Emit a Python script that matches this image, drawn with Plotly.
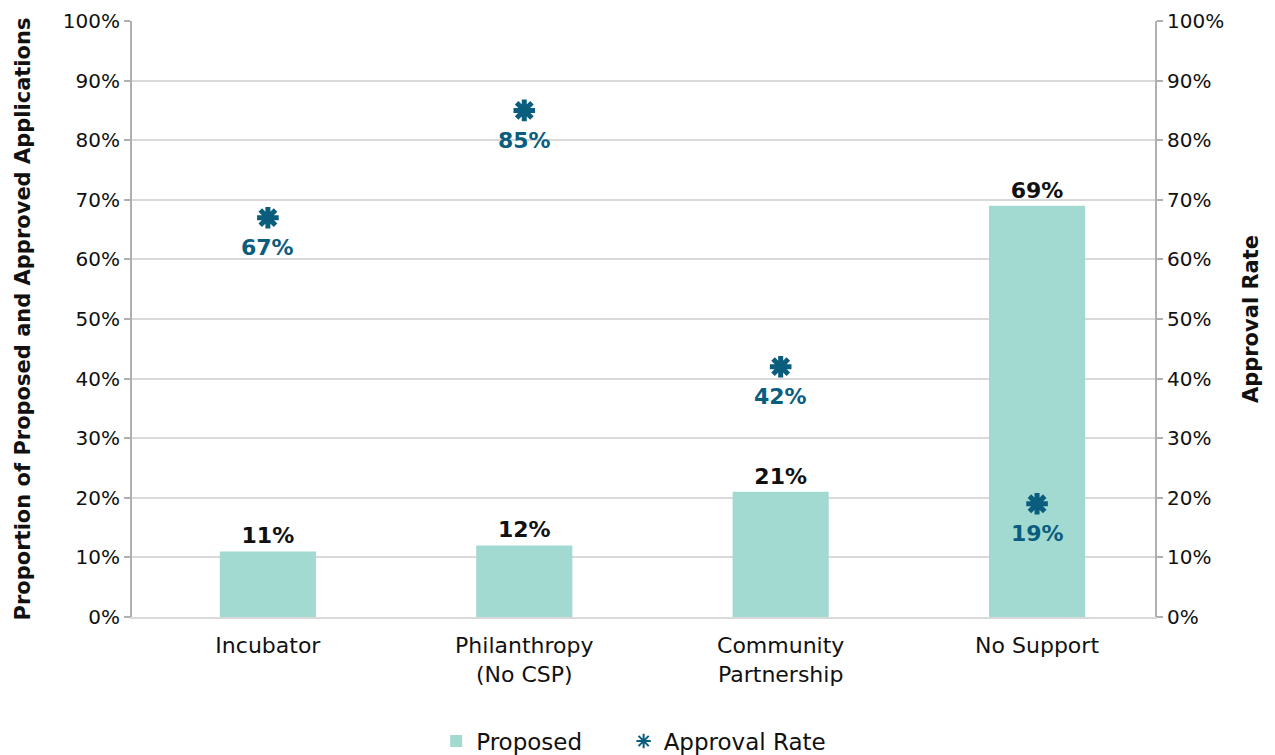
import plotly.graph_objects as go

categories = ["Incubator", "Philanthropy<br>(No CSP)", "Community<br>Partnership", "No Support"]
proposed = [11, 12, 21, 69]
approval_rate = [67, 85, 42, 19]
tick_vals = [0, 10, 20, 30, 40, 50, 60, 70, 80, 90, 100]
tick_text = [f"{v}%" for v in tick_vals]

BAR = "#a2dad1"
MARK = "#0b5d7e"
FONT = "DejaVu Sans"
TXT = "#111111"
PAD = "\u00a0" * 5

fig = go.Figure()
fig.add_trace(go.Bar(
    x=categories, y=proposed, name="Proposed" + PAD,
    marker=dict(color=BAR, line=dict(width=0)),
    width=0.375,
    text=[f"<b>{v}%</b>" for v in proposed], textposition="outside",
    textfont=dict(size=22, color=TXT, family=FONT),
    cliponaxis=False,
))
fig.add_trace(go.Scatter(
    x=categories, y=approval_rate, name="Approval Rate", yaxis="y2",
    mode="markers",
    marker=dict(symbol="asterisk-open", size=18, line=dict(color=MARK, width=5), color=MARK),
    cliponaxis=False,
))

annotations = []
for c, v in zip(categories, approval_rate):
    annotations.append(dict(
        x=c, y=v, xref="x", yref="y2", text=f"<b>{v}%</b>", showarrow=False,
        yshift=-30, font=dict(size=22, color=MARK, family=FONT),
    ))

axis_common = dict(
    range=[0, 100], tickvals=tick_vals, ticktext=tick_text,
    tickfont=dict(size=20, color=TXT, family=FONT),
    showline=True, linecolor="#b0b0b0", linewidth=2,
    ticks="outside", ticklen=6, tickcolor="#b0b0b0", tickwidth=2,
    zeroline=False, automargin=False,
)

fig.update_layout(
    width=1275, height=755,
    margin=dict(l=132, r=120, t=21, b=138),
    plot_bgcolor="white", paper_bgcolor="white",
    font=dict(family=FONT, color=TXT),
    bargap=0.625,
    annotations=annotations,
    xaxis=dict(
        range=[-0.53, 3.46],
        tickfont=dict(size=22, color=TXT, family=FONT),
        showline=True, linecolor="#d9d9d9", linewidth=2,
        ticks="outside", ticklen=8, tickcolor="rgba(0,0,0,0)",
        showgrid=False, automargin=False,
    ),
    yaxis=dict(
        **axis_common,
        showgrid=True, gridcolor="#d9d9d9", gridwidth=2,
        title=dict(text="<b>Proportion of Proposed and Approved Applications</b>",
                   font=dict(size=21, color=TXT, family=FONT), standoff=26),
    ),
    yaxis2=dict(
        **axis_common,
        overlaying="y", side="right", showgrid=False,
        title=dict(text="<b>Approval Rate</b>",
                   font=dict(size=21, color=TXT, family=FONT), standoff=20),
    ),
    legend=dict(
        orientation="h", x=0.497, xanchor="center", xref="container",
        y=0.0185, yanchor="middle", yref="container",
        font=dict(size=23, color=TXT, family=FONT),
        itemsizing="constant",
    ),
    showlegend=True,
)

fig.write_html("out.html", config={"displayModeBar": False},
               post_script="document.body.style.margin='0';")
